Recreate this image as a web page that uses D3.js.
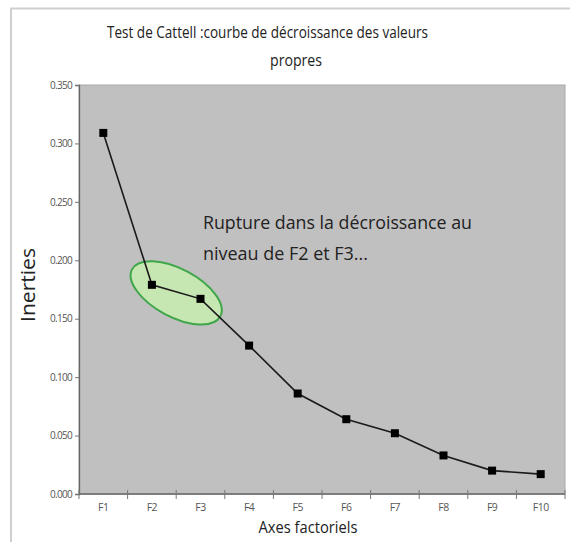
<!DOCTYPE html>
<html>
<head>
<meta charset="utf-8">
<script src="https://cdn.jsdelivr.net/npm/d3@7"></script>
<style>
  html, body { margin: 0; padding: 0; background: #fff; }
  svg { display: block; }
  text { font-family: "Open Sans", "Noto Sans", sans-serif; }
</style>
</head>
<body>
<svg id="chart" width="570" height="542"></svg>
<script>
// Eigenvalue decline (scree plot) for the first ten factorial axes
const factors = ["F1", "F2", "F3", "F4", "F5", "F6", "F7", "F8", "F9", "F10"];
const inerties = [0.309, 0.179, 0.167, 0.127, 0.086, 0.064, 0.052, 0.033, 0.020, 0.017];
const yTicks = [0, 0.05, 0.1, 0.15, 0.2, 0.25, 0.3, 0.35];
const titleLines = ["Test de Cattell :courbe de décroissance des valeurs", "propres"];
const noteLines = ["Rupture dans la décroissance au", "niveau de F2 et F3..."];
const highlighted = ["F2", "F3"];

const svg = d3.select("#chart");
const plot = { left: 79, right: 565, top: 85, bottom: 494 };

// outer frame
svg.append("path")
  .attr("d", "M11,542 V8.5 H570")
  .attr("fill", "none")
  .attr("stroke", "#cfcfcf")
  .attr("stroke-width", 2);

const x = d3.scaleBand().domain(factors).range([plot.left, plot.right]);
const y = d3.scaleLinear().domain([0, 0.35]).range([plot.bottom, plot.top]);

// plot area
svg.append("rect")
  .attr("x", plot.left).attr("y", plot.top)
  .attr("width", plot.right - plot.left).attr("height", plot.bottom - plot.top)
  .attr("fill", "#c1c0c1")
  .attr("stroke", "#a9a9a9")
  .attr("stroke-width", 1);

// y axis
const yAxis = svg.append("g")
  .attr("transform", `translate(${plot.left},0)`)
  .call(d3.axisLeft(y).tickValues(yTicks).tickFormat(d3.format(".3f")).tickSize(4).tickPadding(3));
yAxis.select(".domain").attr("stroke", "#666").attr("stroke-width", 1.3);
yAxis.selectAll(".tick line").attr("stroke", "#777");
yAxis.selectAll(".tick text")
  .attr("fill", "#555").attr("font-size", 10)
  .attr("font-family", "'Open Sans', sans-serif")
  .attr("letter-spacing", -0.7);

// x axis: ticks at band boundaries
const xAxisG = svg.append("g").attr("transform", `translate(0,${plot.bottom})`);
xAxisG.append("line")
  .attr("x1", plot.left).attr("x2", plot.right)
  .attr("stroke", "#666").attr("stroke-width", 1.3);
const bounds = factors.map(f => x(f)).concat([x(factors[factors.length - 1]) + x.bandwidth()]);
xAxisG.selectAll("line.tk").data(bounds).join("line")
  .attr("class", "tk")
  .attr("x1", d => d).attr("x2", d => d)
  .attr("y1", -4).attr("y2", 5)
  .attr("stroke", "#777");
xAxisG.selectAll("text").data(factors).join("text")
  .attr("x", d => x(d) + x.bandwidth() / 2)
  .attr("y", 17)
  .attr("text-anchor", "middle")
  .attr("fill", "#555")
  .attr("font-size", 10.5)
  .attr("letter-spacing", -0.5)
  .text(d => d);

// axis titles
svg.append("text")
  .attr("x", 308).attr("y", 533)
  .attr("text-anchor", "middle")
  .attr("font-size", 15.5)
  .attr("fill", "#222")
  .attr("textLength", 99).attr("lengthAdjust", "spacingAndGlyphs")
  .text("Axes factoriels");
svg.append("text")
  .attr("transform", "translate(35,285) rotate(-90)")
  .attr("text-anchor", "middle")
  .attr("font-size", 20)
  .attr("fill", "#222")
  .attr("textLength", 74).attr("lengthAdjust", "spacingAndGlyphs")
  .text("Inerties");

// chart title
svg.append("text")
  .attr("x", 267.5).attr("y", 38)
  .attr("text-anchor", "middle")
  .attr("font-size", 15.5)
  .attr("fill", "#222")
  .attr("textLength", 321).attr("lengthAdjust", "spacingAndGlyphs")
  .text(titleLines[0]);
svg.append("text")
  .attr("x", 296).attr("y", 66)
  .attr("text-anchor", "middle")
  .attr("font-size", 15.5)
  .attr("fill", "#222")
  .attr("textLength", 52).attr("lengthAdjust", "spacingAndGlyphs")
  .text(titleLines[1]);

const cx = f => x(f) + x.bandwidth() / 2;
const pts = factors.map((f, i) => ({ f, v: inerties[i] }));

// highlight ellipse around the break (F2-F3)
const h = pts.filter(p => highlighted.includes(p.f));
const ex = d3.mean(h, p => cx(p.f));
const ey = d3.mean(h, p => y(p.v));
svg.append("ellipse")
  .attr("transform", `translate(${ex},${ey + 1}) rotate(28)`)
  .attr("rx", 50).attr("ry", 24)
  .attr("fill", "#c6e6b2")
  .attr("stroke", "#3fa64a")
  .attr("stroke-width", 2);

// annotation
svg.append("text")
  .attr("x", 203).attr("y", 229)
  .attr("font-size", 19)
  .attr("fill", "#222")
  .attr("textLength", 269).attr("lengthAdjust", "spacingAndGlyphs")
  .text(noteLines[0]);
svg.append("text")
  .attr("x", 203).attr("y", 260)
  .attr("font-size", 19)
  .attr("fill", "#222")
  .attr("textLength", 165).attr("lengthAdjust", "spacingAndGlyphs")
  .text(noteLines[1]);

// scree line and markers
svg.append("path")
  .datum(pts)
  .attr("fill", "none")
  .attr("stroke", "#1a1a1a")
  .attr("stroke-width", 1.6)
  .attr("d", d3.line().x(d => cx(d.f)).y(d => y(d.v)));
svg.selectAll("rect.mk").data(pts).join("rect")
  .attr("class", "mk")
  .attr("x", d => cx(d.f) - 4).attr("y", d => y(d.v) - 4)
  .attr("width", 8).attr("height", 8)
  .attr("fill", "#000");
</script>
</body>
</html>
